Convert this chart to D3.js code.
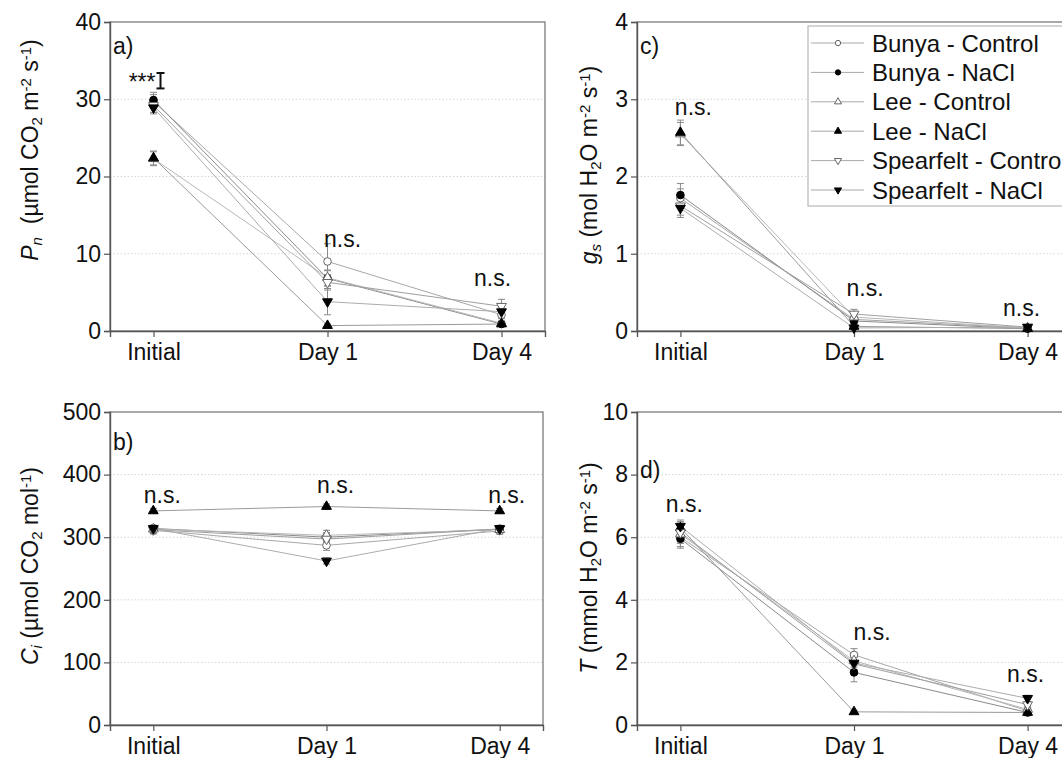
<!DOCTYPE html>
<html>
<head>
<meta charset="utf-8">
<script src="https://cdn.jsdelivr.net/npm/d3@7"></script>
<style>
  body { margin: 0; background: #fff; }
  svg { display: block; font-family: Arial, 'Liberation Sans', sans-serif; }
</style>
</head>
<body>
<svg id="chart" width="1062" height="758"></svg>
<script>
// categories and series
const timepoints = ['Initial', 'Day 1', 'Day 4'];
const seriesNames = ['Bunya - Control', 'Bunya - NaCl', 'Lee - Control', 'Lee - NaCl', 'Spearfelt - Control', 'Spearfelt - NaCl'];

// a) net photosynthesis, Pn
const pnMeans = [[29.7, 9.0, 2.1], [29.9, 6.8, 0.9], [22.3, 6.9, 1.0], [22.4, 0.7, 0.9], [29.2, 6.3, 3.2], [28.9, 3.8, 2.5]];
const pnErrors = [[0.9, 2.3, 0.5], [1.0, 1.0, 0.3], [0.9, 1.0, 0.3], [0.9, 0.2, 0.3], [0.9, 1.0, 0.9], [0.8, 1.7, 0.6]];

// b) intercellular CO2, Ci
const ciMeans = [[311, 287, 310], [314, 300, 313], [313, 303, 312], [342, 349, 342], [312, 297, 313], [314, 262, 314]];
const ciErrors = [[6, 8, 5], [5, 7, 5], [5, 8, 5], [4, 4, 4], [5, 10, 5], [5, 5, 5]];

// c) stomatal conductance, gs
const gsMeans = [[1.72, 0.15, 0.04], [1.76, 0.13, 0.03], [2.55, 0.18, 0.04], [2.57, 0.06, 0.03], [1.62, 0.22, 0.05], [1.59, 0.04, 0.05]];
const gsErrors = [[0.12, 0.05, 0.01], [0.15, 0.05, 0.01], [0.15, 0.05, 0.01], [0.16, 0.02, 0.01], [0.12, 0.06, 0.01], [0.12, 0.02, 0.01]];

// d) transpiration, T
const trMeans = [[6.0, 2.24, 0.45], [5.95, 1.68, 0.4], [6.1, 2.05, 0.5], [6.3, 0.42, 0.4], [6.15, 1.95, 0.65], [6.35, 1.98, 0.85]];
const trErrors = [[0.3, 0.2, 0.1], [0.3, 0.3, 0.1], [0.3, 0.2, 0.1], [0.2, 0.05, 0.1], [0.3, 0.2, 0.1], [0.2, 0.2, 0.1]];

// y axes
const pnTicks = [0, 10, 20, 30, 40];
const ciTicks = [0, 100, 200, 300, 400, 500];
const gsTicks = [0, 1, 2, 3, 4];
const trTicks = [0, 2, 4, 6, 8, 10];

// significance labels: [time point, y value, text]
const pnSig = [['Day 1', 10.9, 'n.s.'], ['Day 4', 5.8, 'n.s.']];
const ciSig = [['Initial', 355, 'n.s.'], ['Day 1', 371, 'n.s.'], ['Day 4', 355, 'n.s.']];
const gsSig = [['Initial', 2.8, 'n.s.'], ['Day 1', 0.45, 'n.s.'], ['Day 4', 0.2, 'n.s.']];
const trSig = [['Initial', 6.8, 'n.s.'], ['Day 1', 2.7, 'n.s.'], ['Day 4', 1.37, 'n.s.']];
const pnLsd = { at: 'Initial', y: 32.4, half: 1.0, label: '***' };

const svg = d3.select('#chart');
const FONT = 23;

const symbolFilled = [false, true, false, true, false, true];
const symbolKind = ['circle', 'circle', 'up', 'up', 'down', 'down'];
const lineColors = ['#a8a8a8', '#8a8a8a', '#b8b8b8', '#9a9a9a', '#a0a0a0', '#acacac'];

function mg_symbol_path(kind, size) {
  const type = kind === 'circle' ? d3.symbolCircle : d3.symbolTriangle;
  return d3.symbol().type(type).size(size)();
}

function mg_add_marker(g, i, x, y, size) {
  g.append('path')
    .attr('d', mg_symbol_path(symbolKind[i], size))
    .attr('transform', `translate(${x},${y})` + (symbolKind[i] === 'down' ? ' rotate(180)' : ''))
    .attr('fill', symbolFilled[i] ? '#000' : '#fff')
    .attr('stroke', symbolFilled[i] ? '#000' : '#666')
    .attr('stroke-width', 1);
}

function mg_add_title(svg, {parts, x, y}) {
  const t = svg.append('text')
    .attr('transform', `translate(${x},${y}) rotate(-90)`)
    .attr('text-anchor', 'middle')
    .attr('font-size', FONT)
    .attr('fill', '#111');
  parts.forEach(([txt, mode, italic]) => {
    const span = t.append('tspan').text(txt);
    if (italic) span.attr('font-style', 'italic');
    if (mode === 'sub') span.attr('baseline-shift', '-25%').attr('font-size', 15);
    if (mode === 'sup') span.attr('baseline-shift', '45%').attr('font-size', 15);
  });
}

function mg_draw_panel(args) {
  const {left, right, top, bottom, domain, ticks, means, errors, sig, sigShift, label, labelY} = args;
  const x = d3.scalePoint().domain(timepoints).range([left, right]).padding(0.25);
  const y = d3.scaleLinear().domain(domain).range([bottom, top]);
  const g = svg.append('g');

  // dotted grid
  g.selectAll('.mg-grid').data(ticks.filter(d => d > domain[0] && d < domain[1]))
    .enter().append('line')
    .attr('x1', left).attr('x2', right)
    .attr('y1', d => y(d)).attr('y2', d => y(d))
    .attr('stroke', '#d6d6d6')
    .attr('stroke-dasharray', '1.5,2');

  // frame
  g.append('rect')
    .attr('x', left).attr('y', top)
    .attr('width', right - left).attr('height', bottom - top)
    .attr('fill', 'none').attr('stroke', '#707070').attr('stroke-width', 1.2);

  const yAxis = g.append('g')
    .attr('transform', `translate(${left},0)`)
    .call(d3.axisLeft(y).tickValues(ticks).tickFormat(d3.format('~g')).tickSize(6).tickPadding(3));
  const xAxis = g.append('g')
    .attr('transform', `translate(0,${bottom})`)
    .call(d3.axisBottom(x).tickSize(6).tickPadding(7));
  [yAxis, xAxis].forEach(a => {
    a.select('.domain').attr('stroke', '#555').attr('stroke-width', 1.4);
    a.selectAll('.tick line').attr('stroke', '#555').attr('stroke-width', 1.2);
    a.selectAll('.tick text').attr('font-size', FONT).attr('font-family', 'Arial, Liberation Sans, sans-serif').attr('fill', '#111');
  });

  const line = d3.line().x((d, j) => x(timepoints[j])).y(d => y(d));

  means.forEach((row, i) => {
    g.append('path')
      .attr('d', line(row))
      .attr('fill', 'none')
      .attr('stroke', lineColors[i])
      .attr('stroke-width', 1);
  });

  means.forEach((row, i) => {
    row.forEach((v, j) => {
      const cx = x(timepoints[j]);
      const e = errors[i][j];
      const eg = g.append('g').attr('stroke', '#8a8a8a').attr('stroke-width', 1);
      eg.append('line').attr('x1', cx).attr('x2', cx).attr('y1', y(v - e)).attr('y2', y(v + e));
      eg.append('line').attr('x1', cx - 3.5).attr('x2', cx + 3.5).attr('y1', y(v - e)).attr('y2', y(v - e));
      eg.append('line').attr('x1', cx - 3.5).attr('x2', cx + 3.5).attr('y1', y(v + e)).attr('y2', y(v + e));
    });
  });

  means.forEach((row, i) => {
    row.forEach((v, j) => {
      mg_add_marker(g, i, x(timepoints[j]), y(v), symbolKind[i] === 'circle' ? 46 : 42);
    });
  });

  sig.forEach(([t, v, txt], k) => {
    g.append('text')
      .attr('x', x(t) + sigShift[k])
      .attr('y', y(v))
      .attr('text-anchor', 'middle')
      .attr('font-size', FONT)
      .attr('fill', '#111')
      .text(txt);
  });

  g.append('text')
    .attr('x', left + 3)
    .attr('y', labelY)
    .attr('font-size', FONT)
    .attr('fill', '#111')
    .text(label);

  return {x, y, g};
}

const pa = mg_draw_panel({left: 110, right: 545, top: 22, bottom: 331, domain: [0, 40], ticks: pnTicks,
  means: pnMeans, errors: pnErrors, sig: pnSig, sigShift: [15, -9], label: 'a)', labelY: 54});
const pb = mg_draw_panel({left: 110, right: 543, top: 412, bottom: 725, domain: [0, 500], ticks: ciTicks,
  means: ciMeans, errors: ciErrors, sig: ciSig, sigShift: [9, 9, 7], label: 'b)', labelY: 450});
const pc = mg_draw_panel({left: 637, right: 1071, top: 22, bottom: 331, domain: [0, 4], ticks: gsTicks,
  means: gsMeans, errors: gsErrors, sig: gsSig, sigShift: [13, 11, -6], label: 'c)', labelY: 54});
const pd = mg_draw_panel({left: 637, right: 1071, top: 412, bottom: 725, domain: [0, 10], ticks: trTicks,
  means: trMeans, errors: trErrors, sig: trSig, sigShift: [4, 18, -2], label: 'd)', labelY: 478});

// *** and LSD bar in panel a
{
  const cx = pa.x(pnLsd.at) + 7;
  const y0 = pa.y(pnLsd.y - pnLsd.half), y1 = pa.y(pnLsd.y + pnLsd.half);
  const bar = pa.g.append('g').attr('stroke', '#111').attr('stroke-width', 2);
  bar.append('line').attr('x1', cx).attr('x2', cx).attr('y1', y0).attr('y2', y1);
  bar.append('line').attr('x1', cx - 4).attr('x2', cx + 4).attr('y1', y0).attr('y2', y0);
  bar.append('line').attr('x1', cx - 4).attr('x2', cx + 4).attr('y1', y1).attr('y2', y1);
  pa.g.append('text')
    .attr('x', cx - 5).attr('y', y0 + 2)
    .attr('text-anchor', 'end')
    .attr('font-size', FONT).attr('fill', '#111')
    .text(pnLsd.label);
}

// axis titles
mg_add_title(svg, {x: 38, y: 150, parts: [['P', '', true], ['n', 'sub', true], ['\u00a0 (\u00b5mol CO', ''], ['2', 'sub'], [' m', ''], ['-2', 'sup'], [' s', ''], ['-1', 'sup'], [')', '']]});
mg_add_title(svg, {x: 38, y: 566, parts: [['C', '', true], ['i', 'sub', true], [' (\u00b5mol CO', ''], ['2', 'sub'], [' mol', ''], ['-1', 'sup'], [')', '']]});
mg_add_title(svg, {x: 597, y: 165, parts: [['g', '', true], ['s', 'sub', true], [' (mol H', ''], ['2', 'sub'], ['O m', ''], ['-2', 'sup'], [' s', ''], ['-1', 'sup'], [')', '']]});
mg_add_title(svg, {x: 597, y: 568, parts: [['T', '', true], [' (mmol H', ''], ['2', 'sub'], ['O m', ''], ['-2', 'sup'], [' s', ''], ['-1', 'sup'], [')', '']]});

// legend
{
  const lg = svg.append('g');
  lg.append('rect')
    .attr('x', 808).attr('y', 26).attr('width', 300).attr('height', 180)
    .attr('fill', '#fff').attr('stroke', '#aaa').attr('stroke-width', 1);
  seriesNames.forEach((name, i) => {
    const ly = 43 + i * 29.4;
    lg.append('line')
      .attr('x1', 811).attr('x2', 864).attr('y1', ly).attr('y2', ly)
      .attr('stroke', '#a8a8a8').attr('stroke-width', 1);
    mg_add_marker(lg, i, 838, ly, 22);
    lg.append('text')
      .attr('x', 872).attr('y', ly).attr('dy', '0.36em')
      .attr('font-size', 24).attr('fill', '#111')
      .text(name);
  });
}
</script>
</body>
</html>
